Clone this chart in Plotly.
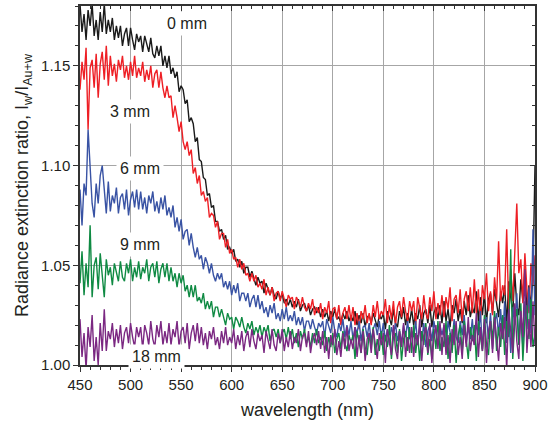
import plotly.graph_objects as go

WAVELENGTH = list(range(450, 901, 2))

SERIES_NAMES = ["0 mm", "3 mm", "6 mm", "9 mm", "18 mm"]

R_0MM = [
    1.181, 1.167, 1.176, 1.163, 1.178, 1.170, 1.181, 1.165, 1.173, 1.163, 1.177, 1.167, 1.181, 1.166, 1.173,
    1.167, 1.174, 1.163, 1.170, 1.164, 1.170, 1.160, 1.166, 1.169, 1.160, 1.169, 1.163, 1.158, 1.166, 1.162,
    1.165, 1.157, 1.165, 1.161, 1.157, 1.164, 1.156, 1.154, 1.160, 1.155, 1.160, 1.150, 1.155, 1.149, 1.155,
    1.146, 1.149, 1.144, 1.147, 1.137, 1.140, 1.138, 1.131, 1.133, 1.122, 1.124, 1.121, 1.112, 1.114, 1.103,
    1.102, 1.094, 1.093, 1.085, 1.086, 1.079, 1.080, 1.072, 1.072, 1.067, 1.068, 1.063, 1.065, 1.058, 1.059,
    1.056, 1.058, 1.052, 1.053, 1.049, 1.052, 1.046, 1.049, 1.049, 1.044, 1.047, 1.043, 1.040, 1.044, 1.041,
    1.042, 1.036, 1.041, 1.038, 1.035, 1.039, 1.035, 1.033, 1.037, 1.033, 1.036, 1.031, 1.033, 1.030, 1.033,
    1.029, 1.032, 1.029, 1.033, 1.027, 1.030, 1.031, 1.027, 1.030, 1.025, 1.028, 1.029, 1.026, 1.029, 1.024,
    1.028, 1.024, 1.027, 1.022, 1.027, 1.024, 1.028, 1.023, 1.024, 1.021, 1.026, 1.023, 1.027, 1.022, 1.025,
    1.022, 1.027, 1.020, 1.025, 1.021, 1.026, 1.019, 1.024, 1.025, 1.021, 1.026, 1.022, 1.019, 1.025, 1.023,
    1.026, 1.018, 1.027, 1.024, 1.020, 1.028, 1.021, 1.019, 1.027, 1.023, 1.029, 1.020, 1.026, 1.021, 1.028,
    1.020, 1.026, 1.023, 1.030, 1.019, 1.026, 1.028, 1.021, 1.030, 1.019, 1.026, 1.029, 1.023, 1.030, 1.021,
    1.032, 1.022, 1.028, 1.019, 1.030, 1.026, 1.033, 1.022, 1.028, 1.021, 1.032, 1.025, 1.035, 1.024, 1.029,
    1.026, 1.037, 1.022, 1.034, 1.025, 1.036, 1.021, 1.033, 1.036, 1.026, 1.038, 1.030, 1.024, 1.037, 1.031,
    1.040, 1.020, 1.042, 1.035, 1.026, 1.046, 1.030, 1.025, 1.043, 1.032, 1.048, 1.027, 1.040, 1.029, 1.046,
    1.100,
]

R_3MM = [
    1.138, 1.152, 1.143, 1.159, 1.118, 1.149, 1.153, 1.139, 1.156, 1.134, 1.151, 1.157, 1.143, 1.160, 1.140,
    1.155, 1.145, 1.151, 1.142, 1.153, 1.148, 1.155, 1.144, 1.150, 1.143, 1.152, 1.145, 1.155, 1.144, 1.149,
    1.145, 1.152, 1.142, 1.148, 1.143, 1.150, 1.139, 1.146, 1.148, 1.139, 1.147, 1.139, 1.134, 1.140, 1.134,
    1.135, 1.124, 1.130, 1.124, 1.117, 1.122, 1.112, 1.108, 1.112, 1.105, 1.108, 1.096, 1.099, 1.091, 1.095,
    1.085, 1.087, 1.082, 1.084, 1.074, 1.076, 1.075, 1.069, 1.072, 1.063, 1.066, 1.066, 1.059, 1.063, 1.056,
    1.058, 1.053, 1.054, 1.049, 1.053, 1.048, 1.051, 1.045, 1.046, 1.042, 1.046, 1.042, 1.045, 1.039, 1.041,
    1.038, 1.043, 1.035, 1.039, 1.035, 1.039, 1.032, 1.036, 1.037, 1.032, 1.037, 1.033, 1.029, 1.035, 1.033,
    1.034, 1.028, 1.034, 1.032, 1.029, 1.034, 1.029, 1.027, 1.031, 1.028, 1.033, 1.025, 1.029, 1.026, 1.031,
    1.023, 1.029, 1.026, 1.032, 1.021, 1.028, 1.029, 1.023, 1.030, 1.020, 1.026, 1.029, 1.023, 1.030, 1.022,
    1.029, 1.020, 1.026, 1.018, 1.027, 1.023, 1.030, 1.021, 1.026, 1.020, 1.030, 1.024, 1.032, 1.023, 1.027,
    1.025, 1.033, 1.021, 1.030, 1.023, 1.032, 1.020, 1.029, 1.032, 1.024, 1.034, 1.027, 1.022, 1.032, 1.027,
    1.032, 1.020, 1.034, 1.029, 1.023, 1.035, 1.026, 1.023, 1.034, 1.027, 1.037, 1.023, 1.031, 1.025, 1.035,
    1.024, 1.034, 1.028, 1.039, 1.022, 1.033, 1.035, 1.026, 1.038, 1.022, 1.033, 1.037, 1.027, 1.039, 1.026,
    1.043, 1.026, 1.038, 1.022, 1.040, 1.033, 1.046, 1.027, 1.037, 1.025, 1.044, 1.032, 1.062, 1.032, 1.040,
    1.035, 1.068, 1.027, 1.048, 1.032, 1.055, 1.081, 1.046, 1.053, 1.031, 1.056, 1.038, 1.026, 1.051, 1.040,
    1.055,
]

R_6MM = [
    1.088, 1.070, 1.091, 1.085, 1.118, 1.096, 1.081, 1.074, 1.091, 1.081, 1.095, 1.100, 1.087, 1.076, 1.092,
    1.077, 1.085, 1.081, 1.089, 1.076, 1.084, 1.086, 1.078, 1.088, 1.075, 1.083, 1.087, 1.079, 1.088, 1.078,
    1.087, 1.078, 1.084, 1.076, 1.085, 1.081, 1.087, 1.077, 1.082, 1.076, 1.084, 1.078, 1.085, 1.075, 1.079,
    1.074, 1.080, 1.069, 1.074, 1.067, 1.073, 1.063, 1.067, 1.068, 1.060, 1.066, 1.059, 1.054, 1.059, 1.053,
    1.055, 1.048, 1.054, 1.051, 1.046, 1.051, 1.045, 1.042, 1.046, 1.043, 1.046, 1.039, 1.042, 1.038, 1.042,
    1.035, 1.040, 1.036, 1.041, 1.032, 1.036, 1.036, 1.032, 1.036, 1.029, 1.033, 1.035, 1.029, 1.035, 1.028,
    1.032, 1.026, 1.029, 1.024, 1.030, 1.026, 1.031, 1.023, 1.026, 1.022, 1.028, 1.023, 1.029, 1.022, 1.025,
    1.022, 1.027, 1.020, 1.024, 1.020, 1.024, 1.017, 1.022, 1.022, 1.018, 1.023, 1.019, 1.016, 1.021, 1.019,
    1.022, 1.014, 1.023, 1.020, 1.016, 1.024, 1.017, 1.014, 1.021, 1.017, 1.023, 1.014, 1.020, 1.015, 1.022,
    1.013, 1.019, 1.016, 1.022, 1.012, 1.019, 1.020, 1.014, 1.021, 1.012, 1.018, 1.021, 1.015, 1.022, 1.014,
    1.021, 1.012, 1.018, 1.010, 1.019, 1.015, 1.021, 1.012, 1.017, 1.011, 1.020, 1.014, 1.022, 1.013, 1.017,
    1.014, 1.022, 1.010, 1.019, 1.012, 1.021, 1.009, 1.017, 1.020, 1.012, 1.022, 1.015, 1.010, 1.020, 1.015,
    1.020, 1.008, 1.022, 1.017, 1.011, 1.023, 1.014, 1.011, 1.022, 1.015, 1.025, 1.011, 1.019, 1.013, 1.023,
    1.010, 1.021, 1.015, 1.027, 1.008, 1.021, 1.024, 1.013, 1.026, 1.008, 1.021, 1.026, 1.015, 1.028, 1.013,
    1.032, 1.011, 1.026, 1.006, 1.029, 1.020, 1.036, 1.011, 1.025, 1.009, 1.032, 1.018, 1.039, 1.016, 1.068,
    1.025,
]

R_9MM = [
    1.041, 1.057, 1.035, 1.051, 1.039, 1.070, 1.034, 1.050, 1.054, 1.038, 1.056, 1.043, 1.034, 1.053, 1.045,
    1.049, 1.040, 1.051, 1.047, 1.042, 1.052, 1.044, 1.042, 1.051, 1.046, 1.053, 1.042, 1.049, 1.044, 1.052,
    1.043, 1.049, 1.046, 1.053, 1.042, 1.049, 1.051, 1.044, 1.052, 1.041, 1.048, 1.051, 1.044, 1.051, 1.042,
    1.049, 1.042, 1.046, 1.039, 1.046, 1.041, 1.045, 1.037, 1.040, 1.034, 1.040, 1.034, 1.040, 1.032, 1.034,
    1.031, 1.036, 1.028, 1.032, 1.028, 1.032, 1.024, 1.029, 1.029, 1.024, 1.028, 1.024, 1.020, 1.026, 1.023,
    1.024, 1.018, 1.024, 1.022, 1.019, 1.024, 1.019, 1.016, 1.021, 1.018, 1.022, 1.015, 1.019, 1.016, 1.020,
    1.014, 1.019, 1.016, 1.020, 1.012, 1.017, 1.018, 1.014, 1.018, 1.011, 1.016, 1.018, 1.013, 1.019, 1.013,
    1.018, 1.011, 1.016, 1.009, 1.017, 1.013, 1.018, 1.011, 1.014, 1.009, 1.016, 1.011, 1.018, 1.011, 1.014,
    1.010, 1.017, 1.007, 1.014, 1.009, 1.016, 1.006, 1.013, 1.016, 1.008, 1.017, 1.011, 1.007, 1.015, 1.011,
    1.015, 1.003, 1.017, 1.012, 1.006, 1.018, 1.009, 1.005, 1.016, 1.009, 1.019, 1.005, 1.013, 1.007, 1.017,
    1.005, 1.015, 1.009, 1.020, 1.003, 1.014, 1.016, 1.006, 1.018, 1.002, 1.013, 1.017, 1.007, 1.019, 1.006,
    1.020, 1.006, 1.015, 1.002, 1.017, 1.010, 1.021, 1.005, 1.013, 1.003, 1.018, 1.008, 1.022, 1.007, 1.014,
    1.009, 1.022, 1.003, 1.016, 1.006, 1.020, 1.001, 1.015, 1.020, 1.006, 1.022, 1.011, 1.003, 1.019, 1.012,
    1.020, 1.002, 1.022, 1.015, 1.007, 1.025, 1.010, 1.005, 1.022, 1.013, 1.027, 1.007, 1.019, 1.009, 1.025,
    1.005, 1.022, 1.014, 1.058, 1.003, 1.022, 1.028, 1.010, 1.031, 1.002, 1.022, 1.030, 1.013, 1.033, 1.009,
    1.015,
]

R_18MM = [
    1.023, 1.004, 1.016, 0.998, 1.019, 1.009, 1.025, 1.002, 1.014, 1.000, 1.021, 1.007, 1.028, 1.007, 1.017,
    1.013, 1.021, 1.009, 1.018, 1.011, 1.020, 1.008, 1.016, 1.019, 1.011, 1.021, 1.014, 1.009, 1.019, 1.014,
    1.019, 1.008, 1.020, 1.016, 1.010, 1.022, 1.013, 1.009, 1.020, 1.014, 1.022, 1.010, 1.017, 1.011, 1.021,
    1.010, 1.018, 1.014, 1.022, 1.009, 1.017, 1.019, 1.011, 1.021, 1.008, 1.016, 1.020, 1.012, 1.021, 1.011,
    1.019, 1.010, 1.016, 1.008, 1.017, 1.013, 1.019, 1.010, 1.014, 1.008, 1.017, 1.011, 1.019, 1.010, 1.014,
    1.011, 1.018, 1.008, 1.015, 1.010, 1.017, 1.007, 1.014, 1.017, 1.009, 1.018, 1.012, 1.008, 1.016, 1.012,
    1.015, 1.006, 1.017, 1.013, 1.008, 1.018, 1.010, 1.007, 1.016, 1.011, 1.018, 1.007, 1.014, 1.009, 1.017,
    1.008, 1.014, 1.011, 1.018, 1.007, 1.014, 1.016, 1.009, 1.017, 1.006, 1.013, 1.016, 1.010, 1.017, 1.008,
    1.017, 1.006, 1.014, 1.003, 1.015, 1.010, 1.018, 1.005, 1.012, 1.004, 1.016, 1.008, 1.019, 1.007, 1.013,
    1.008, 1.019, 1.004, 1.015, 1.006, 1.017, 1.002, 1.013, 1.016, 1.006, 1.018, 1.009, 1.003, 1.016, 1.010,
    1.016, 1.001, 1.018, 1.012, 1.005, 1.020, 1.008, 1.003, 1.017, 1.009, 1.021, 1.004, 1.014, 1.006, 1.019,
    1.004, 1.016, 1.010, 1.023, 1.002, 1.015, 1.019, 1.006, 1.021, 1.001, 1.014, 1.020, 1.008, 1.022, 1.005,
    1.021, 1.005, 1.015, 1.001, 1.018, 1.010, 1.022, 1.005, 1.014, 1.003, 1.020, 1.009, 1.024, 1.007, 1.015,
    1.010, 1.026, 1.004, 1.019, 1.007, 1.023, 1.001, 1.017, 1.022, 1.006, 1.024, 1.011, 1.002, 1.021, 1.013,
    1.024, 0.998, 1.028, 1.018, 1.006, 1.031, 1.012, 1.003, 1.027, 1.014, 1.048, 1.006, 1.023, 1.009, 1.032,
    1.010,
]

SERIES = [R_0MM, R_3MM, R_6MM, R_9MM, R_18MM]
for _n, _s in zip(SERIES_NAMES, SERIES):
    if len(_s) != len(WAVELENGTH):
        raise ValueError(f"{_n}: {len(_s)} values vs {len(WAVELENGTH)} wavelengths")

COLORS = ["#1a1a1a", "#ee1f25", "#3953a4", "#0f8a43", "#7b2882"]

# in-plot series labels (data coordinates)
LABEL_X = [556, 499.5, 509, 509, 526]
LABEL_Y = [1.171, 1.127, 1.0985, 1.0605, 1.0045]

FONT = "Liberation Sans, Arial, Helvetica, sans-serif"
TXT = "#231f20"
AX = "#333333"
GRID = "#a6a6a6"

fig = go.Figure()
for name, vals, col in zip(SERIES_NAMES, SERIES, COLORS):
    fig.add_trace(go.Scatter(
        x=WAVELENGTH, y=vals, mode="lines", name=name,
        line=dict(color=col, width=1.4), hoverinfo="skip"))

# empty trace carrying the mirrored top/right axes
fig.add_trace(go.Scatter(x=[None], y=[None], xaxis="x2", yaxis="y2",
                         showlegend=False, hoverinfo="skip"))

for name, lx, ly in zip(SERIES_NAMES, LABEL_X, LABEL_Y):
    fig.add_annotation(x=lx, y=ly, text=name, showarrow=False,
                       font=dict(size=16, color=TXT, family=FONT),
                       bgcolor="white", borderpad=3)

xr = [450, 900]
yr = [1.0, 1.18]

fig.update_layout(
    width=549, height=426,
    margin=dict(l=80, r=14, t=6, b=61),
    plot_bgcolor="white", paper_bgcolor="white",
    showlegend=False,
    font=dict(family=FONT, color=TXT),
    xaxis=dict(
        range=xr, tick0=450, dtick=50, ticks="outside", ticklen=5,
        tickwidth=1.2, tickcolor=AX, automargin=False,
        minor=dict(dtick=10, ticks="outside", ticklen=3, tickcolor=AX,
                   tickwidth=1, showgrid=False),
        showgrid=True, gridcolor=GRID, gridwidth=1,
        showline=True, linecolor=AX, linewidth=1.5, zeroline=False,
        tickfont=dict(size=15, color=TXT),
        title=dict(text="wavelength (nm)", font=dict(size=18, color=TXT),
                   standoff=12),
    ),
    yaxis=dict(
        range=yr, tick0=1.0, dtick=0.05, tickformat=".2f",
        ticks="outside", ticklen=5, tickwidth=1.2, tickcolor=AX,
        automargin=False,
        minor=dict(dtick=0.01, ticks="outside", ticklen=3, tickcolor=AX,
                   tickwidth=1, showgrid=False),
        showgrid=True, gridcolor=GRID, gridwidth=1,
        showline=True, linecolor=AX, linewidth=1.5, zeroline=False,
        tickfont=dict(size=15, color=TXT),
        title=dict(text="Radiance extinction ratio, I<sub>w</sub>/I<sub>Au+w</sub>",
                   font=dict(size=18, color=TXT), standoff=8),
    ),
    xaxis2=dict(
        range=xr, overlaying="x", side="top", anchor="y", automargin=False,
        tick0=450, dtick=50, ticks="inside", ticklen=5, tickwidth=1.2,
        tickcolor=AX,
        minor=dict(dtick=10, ticks="inside", ticklen=3, tickcolor=AX,
                   tickwidth=1, showgrid=False),
        showticklabels=False, showgrid=False, zeroline=False,
        showline=True, linecolor=AX, linewidth=1.5,
    ),
    yaxis2=dict(
        range=yr, overlaying="y", side="right", anchor="x", automargin=False,
        tick0=1.0, dtick=0.05, ticks="inside", ticklen=5, tickwidth=1.2,
        tickcolor=AX,
        minor=dict(dtick=0.01, ticks="inside", ticklen=3, tickcolor=AX,
                   tickwidth=1, showgrid=False),
        showticklabels=False, showgrid=False, zeroline=False,
        showline=True, linecolor=AX, linewidth=1.5,
    ),
)

fig.write_html(
    "out.html",
    config={"displayModeBar": False},
    post_script="document.body.style.margin='0';document.body.style.overflow='hidden';",
)
